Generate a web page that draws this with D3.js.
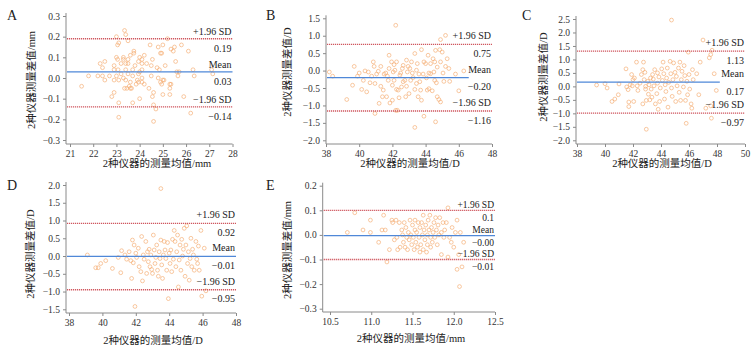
<!DOCTYPE html>
<html>
<head>
<meta charset="utf-8">
<script src="https://cdn.jsdelivr.net/npm/d3@7"></script>
<style>
  body { margin: 0; background: #fff; }
  svg text { font-family: "Liberation Serif", "Noto Sans CJK SC", serif; fill: #222; }
</style>
</head>
<body>
<div class="canvas"></div>
<script>
// ---- data: [mean of two instruments, difference] ----
const ptsA = [[21.5,-0.04],[21.8,0.01],[22.2,0.01],[22.3,0.07],[22.4,0.05],[22.5,0.08],[22.4,0.01],[22.5,-0.01],[22.7,0.01],[22.8,-0.09],
  [22.9,-0.07],[22.9,-0.01],[22.9,0.04],[22.9,0.06],[23.0,0.10],[23.0,0.20],[23.05,0.16],[23.1,0.17],[23.05,0.09],[23.07,0.04],
  [23.0,0.01],[23.1,-0.01],[23.1,-0.12],[23.1,-0.19],[23.2,0.07],[23.2,0.02],[23.3,0.09],[23.3,0.10],[23.3,0.00],[23.35,0.23],
  [23.4,0.21],[23.4,0.07],[23.4,0.04],[23.4,-0.01],[23.35,-0.05],[23.45,-0.05],[23.5,0.18],[23.5,0.09],[23.5,0.07],[23.5,0.02],
  [23.55,-0.04],[23.6,-0.02],[23.6,-0.05],[23.65,-0.05],[23.7,-0.12],[23.7,0.01],[23.7,0.04],[23.75,0.12],[23.75,0.13],[23.8,0.06],
  [23.85,-0.03],[23.9,-0.01],[23.95,0.02],[24.0,0.03],[23.95,-0.02],[23.95,0.08],[24.0,0.10],[24.1,0.09],[24.1,0.07],[24.1,0.04],
  [24.1,0.00],[24.0,-0.10],[24.1,-0.02],[24.2,-0.03],[24.45,0.16],[24.5,0.01],[24.5,0.06],[24.55,-0.09],[24.55,0.09],[24.6,-0.07],
  [24.6,-0.13],[24.6,-0.21],[24.7,-0.15],[24.75,0.05],[24.8,0.00],[24.8,0.15],[24.9,0.12],[24.95,0.12],[24.85,0.04],[24.9,-0.02],
  [24.95,-0.03],[25.0,0.16],[25.0,-0.01],[25.0,-0.08],[25.05,-0.01],[25.1,0.06],[25.2,0.19],[25.3,-0.08],[25.3,-0.03],[25.3,-0.05],
  [25.35,-0.03],[25.35,0.14],[25.45,0.13],[25.5,0.15],[25.55,0.08],[25.6,0.03],[25.7,0.03],[25.9,-0.09],[25.8,0.16],[26.1,0.13],
  [26.2,-0.17],[26.3,0.04],[26.35,0.01],[27.1,0.04],[27.15,0.02],[25.65,0.01],[24.3,0.07],[24.2,0.11],[23.6,0.11],[24.4,-0.05]];

const ptsB = [[38.2,-0.04],[38.4,-0.16],[39.25,-0.83],[39.6,-0.42],[39.7,0.12],[39.9,-0.16],[40.0,-0.07],[40.15,-0.54],[40.25,-0.28],[40.35,-0.01],
  [40.45,-0.61],[40.55,-0.04],[40.65,-0.35],[40.75,-0.16],[40.85,0.25],[40.9,0.12],[40.95,-1.23],[40.95,-0.37],[41.05,-0.10],[41.15,-0.02],
  [41.2,-0.94],[41.3,0.12],[41.3,-0.45],[41.4,-0.75],[41.45,-0.56],[41.5,-0.10],[41.6,-0.07],[41.65,-0.75],[41.7,-0.16],[41.75,-0.28],
  [41.8,0.44],[41.8,0.06],[41.85,-0.93],[41.95,0.25],[42.0,-0.85],[42.0,-0.42],[42.05,-0.04],[42.1,0.17],[42.15,0.01],[42.1,-0.28],
  [42.2,-1.14],[42.2,1.30],[42.25,0.25],[42.25,-0.54],[42.3,-1.14],[42.35,-0.56],[42.4,-0.78],[42.45,-0.13],[42.5,-0.07],[42.55,-0.47],
  [42.6,0.06],[42.65,0.15],[42.65,-0.32],[42.75,-0.28],[42.8,-0.75],[42.85,0.30],[42.85,-0.45],[42.9,-0.04],[42.95,0.12],[43.0,-0.66],
  [43.05,0.06],[43.1,-0.28],[43.15,0.25],[43.2,-0.07],[43.25,-0.20],[43.35,-0.54],[43.35,0.49],[43.35,-1.63],[43.45,0.01],[43.45,-0.37],
  [43.5,0.20],[43.55,-0.75],[43.6,-0.10],[43.65,-0.32],[43.7,-0.56],[43.75,0.60],[43.75,-0.85],[43.85,-0.10],[43.9,-1.31],[43.9,0.25],
  [44.0,0.20],[44.05,-0.21],[44.1,-0.56],[44.15,0.44],[44.2,-0.07],[44.2,-0.52],[44.3,0.20],[44.3,-0.09],[44.4,-0.58],[44.45,0.34],
  [44.5,-0.04],[44.55,0.25],[44.55,-0.28],[44.6,0.58],[44.6,-1.47],[44.65,-0.35],[44.7,0.10],[44.7,-0.75],[44.8,-0.83],[44.85,0.60],
  [44.9,-0.90],[44.9,0.25],[44.9,0.89],[45.0,0.53],[45.05,-0.07],[45.1,-0.31],[45.2,1.01],[45.2,0.12],[45.3,0.34],[45.4,0.06],
  [45.45,-0.31],[45.8,-0.10],[46.0,-0.58],[46.3,-0.01]];

const ptsC = [[39.4,0.05],[40.0,0.10],[40.15,-0.06],[40.5,-0.56],[40.7,-0.47],[40.95,-0.31],[41.0,0.09],[41.5,0.65],[41.55,-0.02],[41.65,-0.12],
  [41.7,-0.58],[41.7,-0.75],[41.8,0.06],[41.9,0.44],[41.95,0.02],[42.0,0.25],[42.05,-0.56],[42.1,0.31],[42.25,0.90],[42.3,0.02],
  [42.35,-0.15],[42.5,0.12],[42.6,0.44],[42.7,-0.65],[42.7,0.62],[42.75,0.90],[42.8,0.25],[42.85,0.52],[42.9,0.00],[42.9,-0.10],
  [42.95,-0.52],[42.95,-1.59],[43.05,0.19],[43.1,-0.29],[43.15,0.06],[43.2,-0.50],[43.25,0.31],[43.3,-0.10],[43.35,-0.40],[43.4,0.44],
  [43.45,0.27],[43.5,0.02],[43.55,0.62],[43.6,-0.65],[43.7,-0.27],[43.75,0.50],[43.75,0.12],[43.8,-0.85],[43.85,0.35],[43.9,-0.56],
  [43.95,-0.06],[44.05,0.65],[44.1,0.22],[44.15,0.90],[44.2,0.47],[44.25,-0.47],[44.3,0.06],[44.35,-0.19],[44.4,0.31],[44.45,0.68],
  [44.5,-0.77],[44.55,0.15],[44.65,0.93],[44.7,0.47],[44.75,2.46],[44.75,-0.06],[44.8,-0.37],[44.85,0.25],[44.9,0.87],[45.0,0.52],
  [45.05,-0.56],[45.1,0.37],[45.15,0.02],[45.25,0.68],[45.3,-0.22],[45.35,0.90],[45.4,-0.52],[45.45,0.25],[45.5,0.56],[45.6,-0.02],
  [45.65,0.77],[45.7,0.40],[45.75,-0.52],[45.8,-1.37],[45.85,0.19],[45.9,-0.31],[45.95,1.27],[46.0,0.44],[46.05,-0.10],[46.15,-0.65],
  [46.2,-0.81],[46.25,0.62],[46.3,0.25],[46.55,0.47],[46.7,-0.31],[46.8,0.90],[47.0,1.72],[47.2,-0.81],[47.45,1.06],[47.55,1.18],
  [47.55,-0.72],[47.6,-1.18],[47.65,1.34],[47.8,0.47],[47.95,-0.15]];

const ptsD = [[39.1,0.03],[39.6,-0.33],[39.75,-0.33],[39.9,-0.21],[40.2,-0.13],[40.6,-0.35],[40.95,-0.04],[41.1,-0.47],[41.15,0.15],[41.35,0.03],
  [41.45,-0.09],[41.6,0.12],[41.7,-0.13],[41.75,-0.63],[41.8,0.45],[41.85,-0.19],[41.9,0.31],[41.95,-1.42],[42.0,0.08],[42.05,-0.04],
  [42.15,0.22],[42.2,-0.30],[42.3,-0.44],[42.35,0.55],[42.4,-0.70],[42.45,0.03],[42.5,-0.09],[42.6,0.41],[42.65,-0.49],[42.7,0.12],
  [42.75,-0.16],[42.8,0.19],[42.85,-0.30],[42.9,0.03],[42.95,-0.38],[43.0,-0.49],[43.05,0.59],[43.1,0.17],[43.15,-0.21],[43.2,-0.04],
  [43.25,0.31],[43.3,-0.40],[43.35,-0.57],[43.4,0.12],[43.45,-0.07],[43.5,1.90],[43.5,0.45],[43.55,-0.25],[43.6,-0.63],[43.65,0.03],
  [43.7,0.41],[43.75,0.17],[43.8,-0.07],[43.85,-0.40],[43.9,0.38],[43.95,-1.20],[44.0,0.08],[44.05,-0.21],[44.1,0.17],[44.15,-0.44],
  [44.2,0.47],[44.25,-0.09],[44.3,0.72],[44.35,0.41],[44.4,-0.30],[44.45,0.12],[44.5,0.59],[44.55,-0.87],[44.6,-0.11],[44.65,0.31],
  [44.7,-0.40],[44.75,0.47],[44.8,0.00],[44.85,0.19],[44.9,0.78],[44.95,-0.57],[45.0,0.31],[45.05,0.85],[45.1,-0.21],[45.15,0.12],
  [45.2,-0.68],[45.25,-0.07],[45.3,0.50],[45.35,-0.30],[45.4,0.19],[45.45,0.03],[45.5,-0.40],[45.6,0.41],[45.65,-0.09],[45.7,-0.21],
  [45.75,0.28],[45.8,-0.40],[45.9,0.72],[45.95,-1.13],[46.1,0.22],[46.2,-0.98]];

const ptsE = [[10.71,0.01],[10.80,0.09],[10.90,0.02],[10.99,0.06],[10.99,0.01],[11.09,-0.03],[11.13,0.02],[11.15,0.08],[11.17,0.02],[11.19,-0.11],
  [11.22,-0.06],[11.25,0.06],[11.26,0.05],[11.28,-0.02],[11.30,0.06],[11.31,-0.01],[11.32,-0.06],[11.34,0.05],[11.35,-0.05],[11.37,0.02],
  [11.38,0.00],[11.39,-0.03],[11.40,0.05],[11.41,-0.05],[11.42,0.03],[11.43,-0.01],[11.44,-0.06],[11.45,0.01],[11.46,-0.02],[11.47,0.06],
  [11.48,0.00],[11.49,-0.04],[11.50,0.04],[11.51,-0.01],[11.52,-0.06],[11.53,0.02],[11.53,0.06],[11.54,-0.03],[11.55,0.01],[11.56,-0.05],
  [11.57,0.05],[11.58,-0.01],[11.59,-0.07],[11.59,0.03],[11.60,-0.04],[11.61,0.05],[11.62,0.00],[11.63,0.08],[11.63,-0.06],[11.64,0.02],
  [11.65,-0.02],[11.66,0.04],[11.67,-0.07],[11.68,0.00],[11.68,-0.04],[11.69,0.06],[11.70,0.02],[11.71,0.08],[11.72,-0.01],[11.72,-0.05],
  [11.73,0.03],[11.74,-0.03],[11.75,0.01],[11.76,0.05],[11.77,-0.01],[11.78,0.07],[11.79,0.02],[11.80,-0.04],[11.81,0.04],[11.82,0.00],
  [11.83,0.07],[11.85,0.01],[11.85,-0.08],[11.87,0.05],[11.88,-0.01],[11.89,0.02],[11.91,0.05],[11.93,0.11],[11.93,-0.09],[11.95,-0.01],
  [11.97,-0.03],[11.98,0.03],[12.00,-0.05],[12.02,0.01],[12.04,-0.14],[12.04,0.06],[12.06,-0.08],[12.07,-0.21],[12.08,0.01],[12.10,-0.13],
  [12.12,-0.03]];

// limits of agreement: [+1.96 SD, mean, -1.96 SD]
const linesA = [0.19, 0.03, -0.14];
const linesB = [0.75, -0.20, -1.16];
const linesC = [1.31, 0.16, -0.99];
const linesD = [0.92, -0.01, -0.95];
const linesE = [0.10, -0.003, -0.10];

const valLabelsA = ['0.19', '0.03', '\u22120.14'];
const valLabelsB = ['0.75', '\u22120.20', '\u22121.16'];
const valLabelsC = ['1.13', '0.17', '\u22120.97'];
const valLabelsD = ['0.92', '\u22120.01', '\u22120.95'];
const valLabelsE = ['0.1', '\u22120.00', '\u22120.01'];
const lineNames = ['+1.96 SD', 'Mean', '\u22121.96 SD'];

// end of the mean line (x value); null = full width
const meanEndB = 46.6;
const meanEndC = 48.2;

const xTicksA = [21,22,23,24,25,26,27,28];
const yTicksA = [-0.3,-0.2,-0.1,0,0.1,0.2,0.3];
const xTicksB = [38,40,42,44,46,48];
const yTicksB = [-2,-1.5,-1,-0.5,0,0.5,1,1.5];
const xTicksC = [38,40,42,44,46,48,50];
const yTicksC = [-2,-1.5,-1,-0.5,0,0.5,1,1.5,2,2.5];
const xTicksD = [38,40,42,44,46,48];
const yTicksD = [-1.5,-1,-0.5,0,0.5,1,1.5,2];
const xTicksE = [10.5,11,11.5,12,12.5];
const yTicksE = [-0.3,-0.2,-0.1,0,0.1,0.2];

const panels = [
  {id:'A', pts:ptsA, lines:linesA, vals:valLabelsA, meanEnd:null, xt:xTicksA, yt:yTicksA, xf:'d', unit:'mm',
   ax:66, xr:[70,232.5], yr:[140,16], base:144, let:[7,20], yl:[33,80], xl:[157,167], off:[-4,13], fs:10},
  {id:'B', pts:ptsB, lines:linesB, vals:valLabelsB, meanEnd:meanEndB, xt:xTicksB, yt:yTicksB, xf:'d', unit:'D',
   ax:326, xr:[326,492], yr:[140.3,18.3], base:144, let:[266,20], yl:[289,72], xl:[410,167], off:[-5,12.5], fs:10},
  {id:'C', pts:ptsC, lines:linesC, vals:valLabelsC, meanEnd:meanEndC, xt:xTicksC, yt:yTicksC, xf:'d', unit:'D',
   ax:576, xr:[577,745], yr:[140.3,19], base:144, let:[522,20], yl:[545,77], xl:[662,167], off:[-5,12.5], fs:10},
  {id:'D', pts:ptsD, lines:linesD, vals:valLabelsD, meanEnd:null, xt:xTicksD, yt:yTicksD, xf:'d', unit:'D',
   ax:66, xr:[69,236], yr:[309.3,185], base:313, let:[7,190], yl:[32,254], xl:[153,344], off:[-5,12.5], fs:10},
  {id:'E', pts:ptsE, lines:linesE, vals:valLabelsE, meanEnd:null, xt:xTicksE, yt:yTicksE, xf:'.1f', unit:'mm',
   ax:322.7, xr:[330,495], yr:[308.7,185.7], base:312, let:[266,190], yl:[289,250], xl:[411,342], off:[-2.5,10.5], fs:9.5}
];

const svg = d3.select('.canvas')
  .append('svg')
    .attr('width', 756)
    .attr('height', 353);

const axisCol = '#8a8a8a';

panels.forEach(p => {
  const g = svg.append('g');
  const x = d3.scaleLinear().domain(d3.extent(p.xt)).range(p.xr);
  const y = d3.scaleLinear().domain(d3.extent(p.yt)).range(p.yr);
  const fy = d3.format('.1f');
  const fx = d3.format(p.xf);

  // y axis
  const yAxis = d3.axisLeft(y).tickValues(p.yt).tickFormat(fy).tickSize(3).tickPadding(3);
  const yg = g.append('g').attr('transform', `translate(${p.ax},0)`).call(yAxis);
  yg.select('.domain').remove();
  g.append('line').attr('x1', p.ax).attr('x2', p.ax)
    .attr('y1', p.yr[1] - 3).attr('y2', p.base)
    .attr('stroke', axisCol).attr('stroke-width', 1);

  // x axis
  const xAxis = d3.axisBottom(x).tickValues(p.xt).tickFormat(fx).tickSize(3).tickPadding(3);
  const xg = g.append('g').attr('transform', `translate(0,${p.base})`).call(xAxis);
  xg.select('.domain').remove();
  g.append('line').attr('x1', p.ax).attr('x2', p.xr[1])
    .attr('y1', p.base).attr('y2', p.base)
    .attr('stroke', axisCol).attr('stroke-width', 1);

  [yg, xg].forEach(a => {
    a.selectAll('.tick line').attr('stroke', axisCol);
    a.selectAll('.tick text').attr('font-size', 9.5).style('fill', '#333');
  });

  // points
  g.append('g').selectAll('circle')
    .data(p.pts)
    .enter()
    .append('circle')
      .attr('cx', d => x(d[0]))
      .attr('cy', d => y(d[1]))
      .attr('r', 1.9)
      .attr('fill', 'none')
      .attr('stroke', '#f4ad74')
      .attr('stroke-width', 0.8)
      .attr('opacity', 0.85);

  // reference lines
  p.lines.forEach((v, i) => {
    const isMean = i === 1;
    const xEnd = isMean && p.meanEnd != null ? x(p.meanEnd) : p.xr[1];
    g.append('line')
      .attr('x1', p.ax + 1).attr('x2', xEnd)
      .attr('y1', y(v)).attr('y2', y(v))
      .attr('stroke', isMean ? '#4f88d8' : '#d0575f')
      .attr('stroke-width', isMean ? 1.2 : 1.3)
      .attr('stroke-dasharray', isMean ? null : '1.2 0.8');
    g.append('text')
      .attr('x', p.xr[1] - 1).attr('y', y(v) + p.off[0])
      .attr('text-anchor', 'end').attr('font-size', p.fs)
      .text(lineNames[i]);
    g.append('text')
      .attr('x', p.xr[1] - 1).attr('y', y(v) + p.off[1])
      .attr('text-anchor', 'end').attr('font-size', p.fs)
      .text(p.vals[i]);
  });

  // panel letter and titles
  g.append('text').attr('x', p.let[0]).attr('y', p.let[1])
    .attr('font-size', 14).text(p.id);
  g.append('text')
    .attr('transform', `translate(${p.yl[0]},${p.yl[1]}) rotate(-90)`)
    .attr('text-anchor', 'middle').attr('dominant-baseline', 'middle')
    .attr('font-size', 10.5)
    .text('2种仪器测量差值/' + p.unit);
  g.append('text').attr('x', p.xl[0]).attr('y', p.xl[1])
    .attr('text-anchor', 'middle').attr('font-size', 10.5)
    .text('2种仪器的测量均值/' + p.unit);
});
</script>
</body>
</html>
